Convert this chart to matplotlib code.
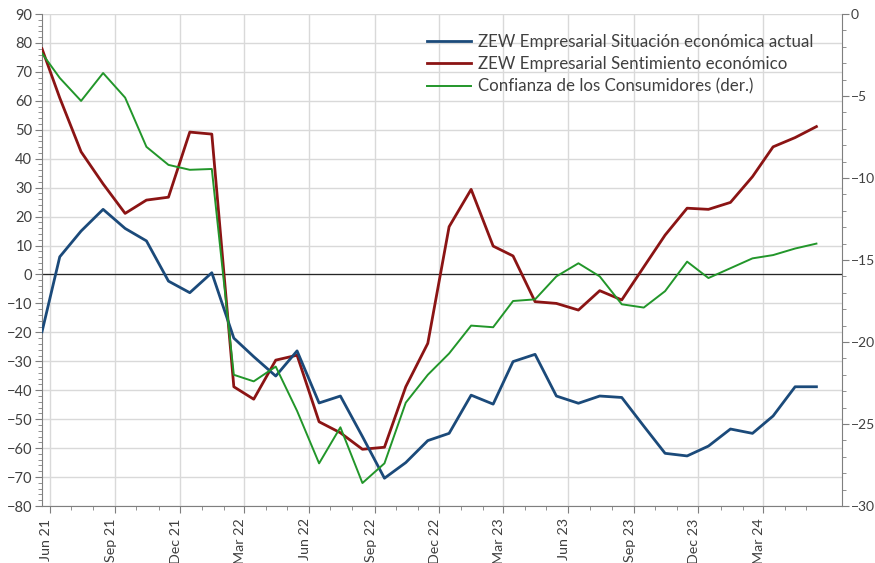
import matplotlib
matplotlib.use("Agg")
import matplotlib.pyplot as plt
import matplotlib.dates as mdates
from matplotlib.ticker import MultipleLocator
from matplotlib.transforms import ScaledTranslation
import pandas as pd

# release dates (first one is a few days after mid-month)
dates = [pd.Timestamp("2021-05-21")] + list(
    pd.date_range("2021-06-01", "2024-05-01", freq="MS") + pd.Timedelta(days=14))

situacion = [-19.8, 6.1, 15.0, 22.5, 15.9, 11.6, -2.3, -6.3, 0.6, -22.0,
             -28.4, -35.1, -26.4, -44.4, -42.0, -56.0, -70.4, -65.0, -57.4, -54.9,
             -41.7, -44.8, -30.1, -27.6, -42.0, -44.5, -42.0, -42.5, -52.4, -61.8,
             -62.7, -59.3, -53.4, -54.9, -48.9, -38.8, -38.8]

sentimiento = [78.0, 61.0, 42.4, 31.3, 21.1, 25.7, 26.7, 49.2, 48.5, -38.8,
               -43.1, -29.6, -27.9, -50.9, -54.7, -60.4, -59.7, -38.8, -23.8, 16.5,
               29.4, 9.8, 6.4, -9.4, -10.0, -12.3, -5.6, -8.8, 2.6, 13.6,
               22.9, 22.5, 24.9, 33.8, 44.1, 47.3, 51.1]

confianza = [-2.4, -3.9, -5.3, -3.6, -5.1, -8.1, -9.2, -9.5, -9.45, -22.0,
             -22.4, -21.5, -24.2, -27.4, -25.2, -28.6, -27.4, -23.7, -22.0, -20.7,
             -19.0, -19.1, -17.5, -17.4, -16.0, -15.2, -16.0, -17.7, -17.9, -16.9,
             -15.1, -16.1, -15.5, -14.9, -14.7, -14.3, -14.0]

labels = ["ZEW Empresarial Situación económica actual",
          "ZEW Empresarial Sentimiento económico",
          "Confianza de los Consumidores (der.)"]
colors = ["#1B4A7A", "#8B1414", "#22962A"]

# quarterly labelled ticks, monthly minor ticks
major_ticks = pd.date_range("2021-06-01", "2024-03-01", freq="3MS")
minor_ticks = pd.date_range("2021-06-01", "2024-05-01", freq="MS")

plt.rcParams["font.family"] = ["Lato", "DejaVu Sans"]
txt = "#404040"
spine = "#7F7F7F"
grid = "#D9D9D9"

fig = plt.figure(figsize=(8.75, 5.63), dpi=100)
ax = fig.add_axes([42 / 875, 1 - 506 / 563, 800 / 875, 492 / 563])
ax2 = ax.twinx()

l1, = ax.plot(dates, situacion, color=colors[0], lw=2.0, zorder=4)
l2, = ax.plot(dates, sentimiento, color=colors[1], lw=2.0, zorder=3)
l3, = ax2.plot(dates, confianza, color=colors[2], lw=1.4, zorder=3)

ax.axhline(0, color="#262626", lw=0.9, zorder=2)

ax.set_ylim(-80, 90)
ax.yaxis.set_major_locator(MultipleLocator(10))
ax.yaxis.set_minor_locator(MultipleLocator(2))
ax2.set_ylim(-30, 0)
ax2.yaxis.set_major_locator(MultipleLocator(5))
ax2.yaxis.set_minor_locator(MultipleLocator(1))

ax.set_xlim(dates[0], pd.Timestamp("2024-06-20"))
ax.set_xticks(major_ticks)
ax.set_xticks(minor_ticks, minor=True)
ax.xaxis.set_major_formatter(mdates.DateFormatter("%b %y"))

ax.grid(True, which="major", color=grid, lw=1.0, zorder=0)
ax.set_axisbelow(True)

for a in (ax, ax2):
    for s in a.spines.values():
        s.set_color(spine)
    a.spines["top"].set_visible(False)
ax2.spines["left"].set_visible(False)
ax2.spines["bottom"].set_visible(False)
ax.spines["right"].set_visible(False)

ax.tick_params(axis="y", which="major", length=5, color=spine, labelsize=10.5, labelcolor=txt, pad=2)
ax.tick_params(axis="y", which="minor", length=3, color=spine)
ax.tick_params(axis="x", which="major", length=5, color=spine, labelsize=10.3, labelcolor=txt,
               labelrotation=90, pad=4)
ax.tick_params(axis="x", which="minor", length=3, color=spine)
ax2.tick_params(axis="y", which="major", length=5, color=spine, labelsize=10, labelcolor=txt, pad=1.5)
ax2.tick_params(axis="y", which="minor", length=3, color=spine)

shift = ScaledTranslation(-4 / 100, 0, fig.dpi_scale_trans)
for lab in ax.get_xticklabels():
    lab.set_transform(lab.get_transform() + shift)

leg = ax2.legend([l1, l2, l3], labels, loc="upper left", bbox_to_anchor=(420 / 875, 1 - 27 / 563),
                 bbox_transform=fig.transFigure, frameon=False, fontsize=12.2,
                 handlelength=2.6, handletextpad=0.4, labelspacing=0.38, borderaxespad=0)
for t in leg.get_texts():
    t.set_color(txt)

fig.savefig("out.png", dpi=100)
